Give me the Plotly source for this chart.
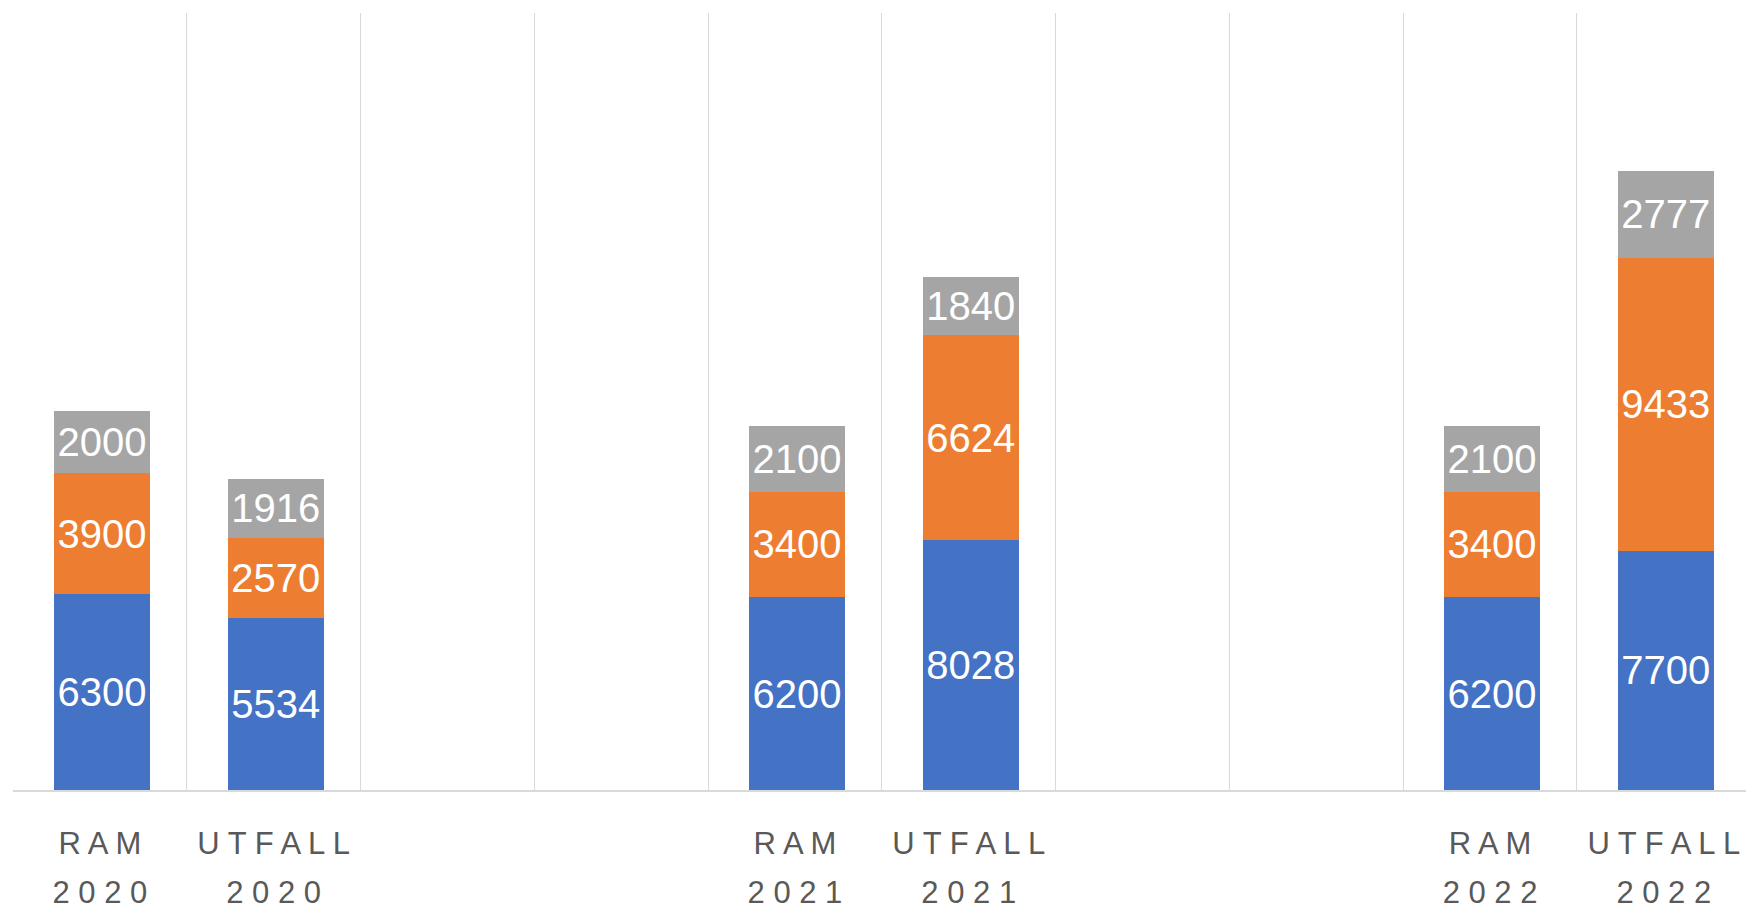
import plotly.graph_objects as go

# ---- data ----
categories = ["RAM 2020", "UTFALL 2020", "RAM 2021", "UTFALL 2021", "RAM 2022", "UTFALL 2022"]
slots = ["RAM 2020", "UTFALL 2020", "tom1", "tom2", "RAM 2021", "UTFALL 2021",
         "tom3", "tom4", "RAM 2022", "UTFALL 2022"]
tick_top = ["R A M", "U T F A L L", "", "", "R A M", "U T F A L L", "", "", "R A M", "U T F A L L"]
tick_bottom = ["2 0 2 0", "2 0 2 0", "", "", "2 0 2 1", "2 0 2 1", "", "", "2 0 2 2", "2 0 2 2"]

series_blue = [6300, 5534, 6200, 8028, 6200, 7700]
series_orange = [3900, 2570, 3400, 6624, 3400, 9433]
series_gray = [2000, 1916, 2100, 1840, 2100, 2777]

colors = ["#4472C4", "#ED7D31", "#A5A5A5"]
names = ["Serie 1", "Serie 2", "Serie 3"]
FONT = "Liberation Sans"

fig = go.Figure()
for vals, col, nm in zip([series_blue, series_orange, series_gray], colors, names):
    fig.add_trace(go.Bar(
        x=categories, y=vals, name=nm,
        marker=dict(color=col, line=dict(width=0)),
        width=0.553, offset=-0.265,
        text=[str(v) for v in vals],
        textposition="inside", insidetextanchor="middle",
        textangle=0, constraintext="none",
        textfont=dict(family=FONT, size=40, color="white"),
        showlegend=False, hoverinfo="skip",
    ))

# helper trace so the second axis exists
fig.add_trace(go.Scatter(x=[slots.index(c) for c in categories], y=[0]*len(categories),
                         xaxis="x2", mode="markers", marker=dict(opacity=0),
                         showlegend=False, hoverinfo="skip"))

xr = [-0.5, 9.473]
fig.update_layout(
    barmode="stack",
    width=1746, height=910,
    margin=dict(l=13, r=0, t=13, b=120),
    paper_bgcolor="white", plot_bgcolor="white",
    xaxis=dict(
        type="category", categoryorder="array", categoryarray=slots,
        range=xr, tickmode="array", tickvals=slots, ticktext=tick_top,
        tickson="boundaries", ticks="", showgrid=True, gridcolor="#D9D9D9", gridwidth=1.3,
        showline=True, linecolor="#D9D9D9", linewidth=1.5,
        tickfont=dict(family=FONT, size=31, color="#595959"),
        ticklabelstandoff=25, zeroline=False,
    ),
    xaxis2=dict(
        overlaying="x", anchor="y", side="bottom", type="linear", range=xr,
        tickmode="array", tickvals=list(range(len(slots))), ticktext=tick_bottom,
        ticks="", showgrid=False, showline=False, zeroline=False,
        tickfont=dict(family=FONT, size=31, color="#595959"),
        ticklabelstandoff=81,
    ),
    yaxis=dict(range=[0, 25000], showgrid=False, showticklabels=False,
               zeroline=False, showline=False, ticks=""),
)

fig.write_html("out.html", config={"displayModeBar": False},
               post_script="document.body.style.margin='0';document.body.style.overflow='hidden';")
